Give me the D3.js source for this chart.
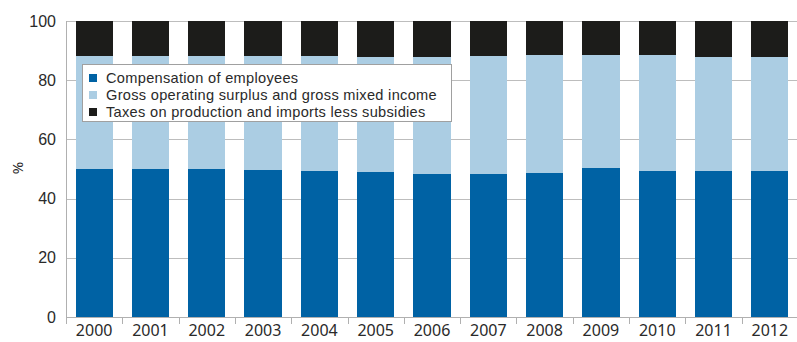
<!DOCTYPE html>
<html>
<head>
<meta charset="utf-8">
<script src="https://cdn.jsdelivr.net/npm/d3@7"></script>
<style>
  html, body { margin: 0; padding: 0; background: #fff; }
  svg { display: block; font-family: "Noto Sans", "DejaVu Sans", sans-serif; }
  .legend-text { font-family: "Liberation Sans", Arial, sans-serif; }
</style>
</head>
<body>
<svg id="chart" width="797" height="342"></svg>
<script>
// Shares of GDP by income component, in %
const years = ["2000","2001","2002","2003","2004","2005","2006","2007","2008","2009","2010","2011","2012"];
const compensation = [50.0, 50.0, 50.0, 49.7, 49.3, 49.0, 48.3, 48.3, 48.6, 50.3, 49.3, 49.3, 49.3];
const grossSurplus = [38.2, 38.2, 38.2, 38.5, 38.9, 38.8, 39.5, 39.9, 39.9, 38.2, 39.2, 38.6, 38.5];
const taxes        = [11.8, 11.8, 11.8, 11.8, 11.8, 12.2, 12.2, 11.8, 11.5, 11.5, 11.5, 12.1, 12.2];
const yTicks = [0, 20, 40, 60, 80, 100];

const seriesNames = [
  "Compensation of employees",
  "Gross operating surplus and gross mixed income",
  "Taxes on production and imports less subsidies"
];
const colors = ["#0062a4", "#abcde3", "#1c1c1a"];

const rows = years.map((y, i) => ({ year: y, s0: compensation[i], s1: grossSurplus[i], s2: taxes[i] }));
const stack = d3.stack().keys(["s0", "s1", "s2"])(rows);

const svg = d3.select("#chart");
const plotLeft = 66, plotRight = 798, plotTop = 21, plotBottom = 317;

const x = d3.scaleBand().domain(years).range([plotLeft, plotRight]).paddingInner(0.34).paddingOuter(0.17);
const y = d3.scaleLinear().domain([0, 100]).range([plotBottom, plotTop]);

// Horizontal gridlines
svg.append("g")
  .selectAll("line")
  .data(yTicks)
  .join("line")
  .attr("x1", plotLeft).attr("x2", 797)
  .attr("y1", d => Math.round(y(d)) + 0.5).attr("y2", d => Math.round(y(d)) + 0.5)
  .attr("stroke", "#bdbdbd").attr("stroke-width", 1);

// Stacked bars
svg.append("g")
  .selectAll("g")
  .data(stack)
  .join("g")
  .attr("fill", (d, i) => colors[i])
  .selectAll("rect")
  .data(d => d)
  .join("rect")
  .attr("x", d => x(d.data.year))
  .attr("width", x.bandwidth())
  .attr("y", d => y(d[1]))
  .attr("height", d => y(d[0]) - y(d[1]))
  .attr("shape-rendering", "crispEdges");

// Y axis
const yAxis = svg.append("g")
  .attr("transform", `translate(${plotLeft},0)`)
  .call(d3.axisLeft(y).tickValues(yTicks).tickSize(0).tickPadding(10));
yAxis.select(".domain").attr("stroke", "#b0b0b0").attr("d", `M0.5,${plotTop}V${plotBottom + 7}`);
yAxis.selectAll("text").attr("font-size", 16).attr("fill", "#2a2a2a");

// X axis with tick marks at category boundaries
const xAxis = svg.append("g").attr("transform", `translate(0,${plotBottom})`);
xAxis.append("line")
  .attr("x1", plotLeft).attr("x2", 797).attr("y1", 0.5).attr("y2", 0.5)
  .attr("stroke", "#b0b0b0");
const bounds = years.map(d => x(d) - x.step() * x.paddingInner() / 2);
xAxis.selectAll("line.tick")
  .data(bounds)
  .join("line")
  .attr("class", "tick")
  .attr("x1", d => Math.round(d) + 0.5).attr("x2", d => Math.round(d) + 0.5)
  .attr("y1", 0).attr("y2", 7)
  .attr("stroke", "#b0b0b0");
xAxis.selectAll("text")
  .data(years)
  .join("text")
  .attr("x", d => x(d) + x.bandwidth() / 2)
  .attr("y", 19)
  .attr("text-anchor", "middle")
  .attr("font-size", 16)
  .attr("fill", "#2a2a2a")
  .text(d => d);

// Y axis title
svg.append("text")
  .attr("transform", "translate(23,168) rotate(-90)")
  .attr("text-anchor", "middle")
  .attr("font-size", 15)
  .attr("fill", "#2a2a2a")
  .text("%");

// Legend
const legend = svg.append("g");
legend.append("rect")
  .attr("x", 82.5).attr("y", 64.5).attr("width", 369).attr("height", 57)
  .attr("fill", "#fff").attr("stroke", "#a0a0a0");
const items = legend.selectAll("g.item")
  .data(seriesNames)
  .join("g")
  .attr("class", "item")
  .attr("transform", (d, i) => `translate(89,${78 + i * 17})`);
items.append("rect")
  .attr("x", 0).attr("y", -4).attr("width", 8).attr("height", 8)
  .attr("fill", (d, i) => colors[i]);
items.append("text")
  .attr("class", "legend-text")
  .attr("x", 17).attr("y", 0)
  .attr("dy", "0.36em")
  .attr("font-size", 14.6)
  .attr("letter-spacing", 0.3)
  .attr("fill", "#2a2a2a")
  .text(d => d);
</script>
</body>
</html>
